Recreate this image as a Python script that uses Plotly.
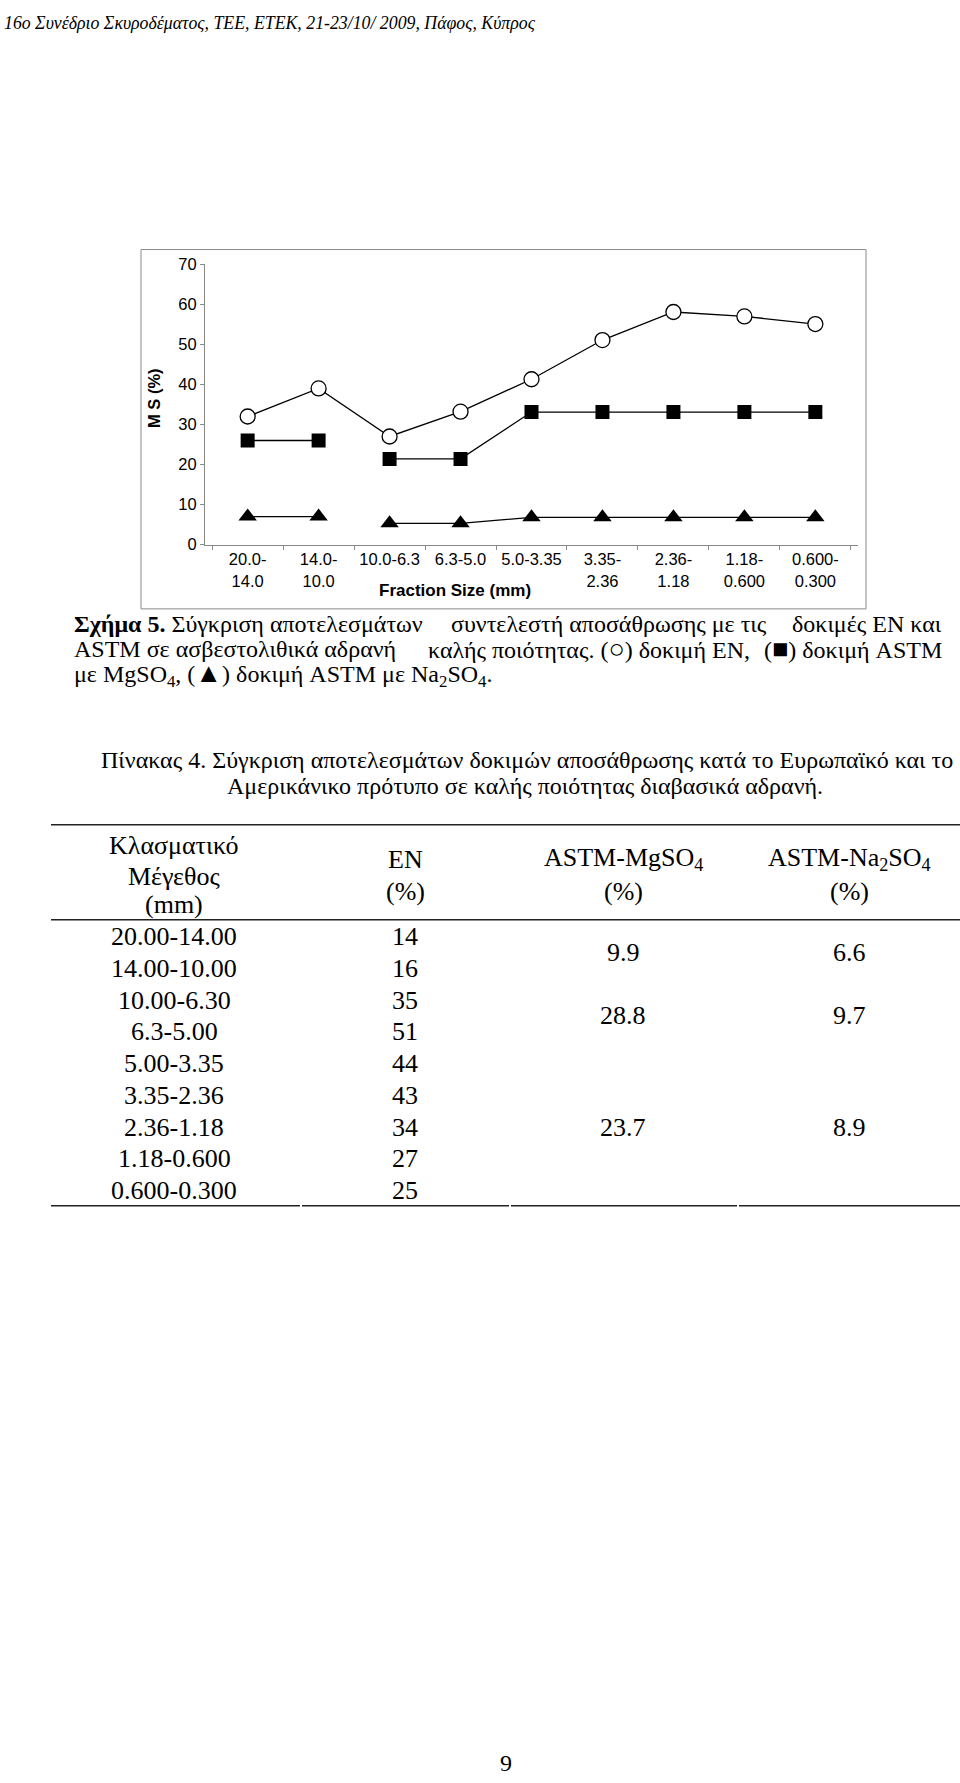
import plotly.graph_objects as go

# ---------------- data ----------------
categories = ["20.0-<br>14.0", "14.0-<br>10.0", "10.0-6.3", "6.3-5.0", "5.0-3.35",
              "3.35-<br>2.36", "2.36-<br>1.18", "1.18-<br>0.600", "0.600-<br>0.300"]
en_values = [32.0, 39.0, 27.0, 33.2, 41.3, 51.1, 58.1, 57.0, 55.1]
mgso4_values = [26.0, 26.0, 21.4, 21.4, 33.1, 33.1, 33.1, 33.1, 33.1]
na2so4_values = [7.0, 7.0, 5.3, 5.3, 6.8, 6.8, 6.8, 6.8, 6.8]
astm_break_after = 1   # ASTM lines are not joined between 2nd and 3rd fraction
y_ticks = [0, 10, 20, 30, 40, 50, 60, 70]

table_sizes = ["20.00-14.00", "14.00-10.00", "10.00-6.30", "6.3-5.00", "5.00-3.35",
               "3.35-2.36", "2.36-1.18", "1.18-0.600", "0.600-0.300"]
table_en = [14, 16, 35, 51, 44, 43, 34, 27, 25]
table_mgso4 = [9.9, 28.8, 23.7]
table_na2so4 = [6.6, 9.7, 8.9]
table_group_rows = [(0, 1), (2, 3), (6, 6)]   # rows spanned by each ASTM value

# ---------------- page geometry helpers ----------------
W, H = 960, 1783
def px(x):
    return x / W
def py(y):
    return 1 - y / H

SERIF = "Liberation Serif, Times New Roman, serif"
SANS = "Liberation Sans, Arial, sans-serif"

def with_break(vals, brk):
    xs, ys = [], []
    for i, (c, v) in enumerate(zip(categories, vals)):
        xs.append(c)
        ys.append(v)
        if brk is not None and i == brk:
            xs.append(None)
            ys.append(None)
    return xs, ys

fig = go.Figure()

x_en, y_en = with_break(en_values, None)
fig.add_trace(go.Scatter(x=x_en, y=y_en, mode="lines+markers",
                         line=dict(color="black", width=1.3),
                         marker=dict(symbol="circle", size=15, color="white",
                                     line=dict(color="black", width=1.3)),
                         showlegend=False))
x_mg, y_mg = with_break(mgso4_values, astm_break_after)
fig.add_trace(go.Scatter(x=x_mg, y=y_mg, mode="lines+markers", connectgaps=False,
                         line=dict(color="black", width=1.3),
                         marker=dict(symbol="square", size=14, color="black"),
                         showlegend=False))
x_na, y_na = with_break(na2so4_values, astm_break_after)
fig.add_trace(go.Scatter(x=x_na, y=y_na, mode="lines+markers", connectgaps=False,
                         line=dict(color="black", width=1.3),
                         marker=dict(symbol="triangle-up", size=16, color="black"),
                         showlegend=False))

fig.update_xaxes(type="category", categoryorder="array", categoryarray=categories,
                 domain=[px(205), px(858)], showline=True, linecolor="#8a8a8a",
                 linewidth=1, ticks="outside", tickson="boundaries", ticklen=4,
                 tickcolor="#8a8a8a", showgrid=False, zeroline=False,
                 tickfont=dict(family=SANS, size=16.5, color="black"))
fig.update_yaxes(range=[0, 70], domain=[py(541), py(258)], tickvals=y_ticks,
                 showline=True, linecolor="#8a8a8a", linewidth=1, ticks="outside",
                 ticklen=4, tickcolor="#8a8a8a", showgrid=False, zeroline=False,
                 tickfont=dict(family=SANS, size=16.5, color="black"))

shapes = []
annotations = []

# chart frame
shapes.append(dict(type="rect", xref="paper", yref="paper",
                   x0=px(141), x1=px(866), y0=py(606), y1=py(243),
                   line=dict(color="#8a8a8a", width=1)))

def text(x, y, s, size, family=SERIF, anchor="left", angle=0):
    annotations.append(dict(x=px(x), y=py(y), xref="paper", yref="paper", text=s,
                            showarrow=False, xanchor=anchor, yanchor="middle",
                            textangle=angle,
                            font=dict(family=family, size=size, color="black")))

# axis titles
text(154, 393, "<b>M S (%)</b>", 16.5, SANS, "center", -90)
text(455, 587, "<b>Fraction Size (mm)</b>", 17, SANS, "center")

# header
text(2, 14, "<i>16ο Συνέδριο Σκυροδέματος, ΤΕΕ, ΕΤΕΚ, 21-23/10/ 2009, Πάφος, Κύπρος</i>",
     17.8, SERIF, "left")

# figure caption (justified lines approximated by left / middle / right parts)
CAP = 24
SYM = '<span style="font-size:27px">'
text(72, 621, "<b>Σχήμα 5.</b> Σύγκριση αποτελεσμάτων", CAP)
text(609, 621, "συντελεστή αποσάθρωσης με τις", CAP, anchor="center")
text(944, 621, "δοκιμές ΕΝ και", CAP, anchor="right")
text(72, 647, "ASTM σε ασβεστολιθικά αδρανή", CAP)
text(589, 647, "καλής ποιότητας. (" + SYM + "○</span>) δοκιμή ΕΝ,", CAP, anchor="center")
text(944, 647, "(" + SYM + "■</span>) δοκιμή ASTM", CAP, anchor="right")
text(72, 672, "με MgSO<sub>4</sub>, (" + SYM + "▲</span>) δοκιμή ASTM με Na<sub>2</sub>SO<sub>4</sub>.", CAP)

# table title
text(527, 759, "Πίνακας 4. Σύγκριση αποτελεσμάτων δοκιμών αποσάθρωσης κατά το Ευρωπαϊκό και το",
     CAP, anchor="center")
text(525, 785, "Αμερικάνικο πρότυπο σε καλής ποιότητας διαβασικά αδρανή.", CAP, anchor="center")

# table
TF = 26
col_x = [174, 405, 623, 849]
text(col_x[0], 845, "Κλασματικό", TF, anchor="center")
text(col_x[0], 876, "Μέγεθος", TF, anchor="center")
text(col_x[0], 905, "(mm)", TF, anchor="center")
text(col_x[1], 859, "ΕΝ", TF, anchor="center")
text(col_x[1], 891, "(%)", TF, anchor="center")
text(col_x[2], 859, "ASTM-MgSO<sub>4</sub>", TF, anchor="center")
text(col_x[2], 891, "(%)", TF, anchor="center")
text(col_x[3], 859, "ASTM-Na<sub>2</sub>SO<sub>4</sub>", TF, anchor="center")
text(col_x[3], 891, "(%)", TF, anchor="center")

row_y0, row_dy = 937, 32.1
for i, (s, e) in enumerate(zip(table_sizes, table_en)):
    yy = row_y0 + i * row_dy
    text(col_x[0], yy, s, TF, anchor="center")
    text(col_x[1], yy, str(e), TF, anchor="center")
for (r0, r1), mg, na in zip(table_group_rows, table_mgso4, table_na2so4):
    yy = row_y0 + (r0 + r1) / 2 * row_dy
    text(col_x[2], yy, f"{mg:.1f}", TF, anchor="center")
    text(col_x[3], yy, f"{na:.1f}", TF, anchor="center")

def hline(x0, x1, y, w=1.5):
    shapes.append(dict(type="line", xref="paper", yref="paper", x0=px(x0), x1=px(x1),
                       y0=py(y), y1=py(y), line=dict(color="#222222", width=w)))

hline(51, 960, 824)
hline(51, 960, 920)
for a, b in [(51, 300), (302, 509), (511, 737), (739, 960)]:
    hline(a, b, 1209)

# page number
text(506, 1772, "9", 24, SERIF, "center")

fig.update_layout(width=W, height=H, margin=dict(l=0, r=0, t=0, b=0),
                  paper_bgcolor="white", plot_bgcolor="white",
                  shapes=shapes, annotations=annotations, showlegend=False)

fig.write_html("out.html")
